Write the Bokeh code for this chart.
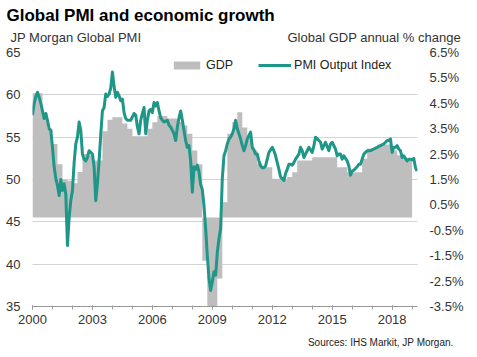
from bokeh.plotting import figure
from bokeh.models import (Range1d, LinearAxis, FixedTicker, PrintfTickFormatter,
                          Label, Legend, LegendItem)
from bokeh.embed import file_html
from bokeh.resources import INLINE

FONT = "Liberation Sans"

# JP Morgan Global PMI output index, monthly from Jan 2000
pmi_values = [
    57.6, 59.0, 59.8, 60.3, 59.7, 59.0, 58.1, 57.2, 57.8, 57.0, 56.0, 55.8,  # 2000
    53.8, 51.5, 50.1, 49.3, 48.1, 50.0, 48.7, 49.5, 48.3, 42.2, 45.5, 47.5,  # 2001
    48.7, 52.0, 54.2, 55.0, 56.8, 55.8, 53.0, 52.4, 52.2, 52.6, 53.4, 53.2,  # 2002
    53.0, 51.5, 47.5, 49.5, 52.2, 55.3, 58.1, 58.5, 60.1, 59.8, 60.1, 60.8,  # 2003
    62.7, 61.0, 59.7, 60.3, 59.9, 59.3, 59.5, 57.9, 57.2, 57.0, 57.0, 57.0,  # 2004
    57.4, 57.8, 57.6, 56.2, 55.4, 57.0, 57.8, 58.5, 55.4, 57.0, 58.1, 58.3,  # 2005
    57.9, 59.1, 58.7, 59.1, 58.1, 57.3, 57.0, 56.8, 56.9, 57.0, 56.4, 56.2,  # 2006
    55.8, 55.4, 54.6, 56.2, 57.3, 58.1, 57.0, 55.8, 54.6, 53.8, 54.0, 52.2,  # 2007
    48.5, 51.5, 51.2, 51.7, 50.9, 49.4, 48.8, 46.9, 44.2, 41.0, 38.3, 36.9,  # 2008
    37.9, 39.1, 38.7, 41.4, 43.0, 44.2, 50.1, 52.8, 53.4, 54.2, 54.8, 55.0,  # 2009
    55.4, 56.0, 57.0, 56.0, 55.4, 54.8, 54.0, 53.4, 54.0, 54.8, 55.2, 55.6,  # 2010
    53.8, 53.5, 53.0, 53.0, 52.2, 51.6, 51.4, 51.4, 51.6, 52.4, 53.2, 53.5,  # 2011
    53.8, 53.4, 52.8, 52.0, 51.2, 50.3, 50.1, 49.9, 50.7, 51.2, 51.8, 51.8,  # 2012
    51.7, 52.0, 52.4, 52.7, 53.0, 53.8, 53.4, 52.6, 53.0, 53.4, 53.8, 53.5,  # 2013
    53.2, 54.0, 55.0, 54.8, 54.6, 54.4, 53.6, 54.0, 54.4, 53.9, 53.4, 54.2,  # 2014
    54.4, 54.0, 53.6, 52.8, 53.0, 53.0, 52.4, 52.8, 52.5, 52.2, 51.6, 50.5,  # 2015
    51.0, 51.1, 51.3, 51.5, 51.8, 51.8, 52.4, 53.0, 53.2, 53.4, 53.4, 53.4,  # 2016
    53.5, 53.6, 53.7, 53.8, 53.9, 54.0, 54.1, 54.2, 54.4, 54.6, 54.6, 54.8,  # 2017
    53.2, 53.8, 53.8, 54.0, 53.6, 53.4, 52.6, 52.8, 52.5, 52.2, 52.4, 52.4,  # 2018
    52.3, 52.5, 51.4, 51.0,                                                  # 2019
]

# Global GDP annual % change, quarterly from 2000 Q1
gdp_values = [
    4.9, 4.9, 4.1, 3.5,      # 2000
    2.9, 2.1, 1.5, 1.45,     # 2001
    1.35, 1.8, 2.5, 2.45,    # 2002
    2.25, 2.25, 3.4, 3.85,   # 2003
    3.95, 3.95, 3.7, 3.5,    # 2004
    3.2, 3.2, 3.2, 3.5,      # 2005
    3.75, 4.0, 4.0, 3.9,     # 2006
    3.9, 3.76, 3.63, 3.3,    # 2007
    2.64, 2.1, -1.7, -4.2,   # 2008
    -4.0, -2.4, 0.6, 3.3,    # 2009
    3.76, 4.15, 3.55, 3.23,  # 2010
    2.64, 2.13, 1.98, 1.98,  # 2011
    1.53, 1.53, 1.5, 1.6,    # 2012
    1.79, 2.25, 2.25, 2.25,  # 2013
    2.38, 2.38, 2.38, 2.38,  # 2014
    2.38, 1.98, 1.98, 1.79,  # 2015
    1.79, 1.79, 2.32, 2.72,  # 2016
    2.72, 2.88, 2.88, 2.88,  # 2017
    2.64, 2.45, 2.35, 2.25,  # 2018
]

left_ticks = [35, 40, 45, 50, 55, 60, 65]
right_ticks = [-3.5, -2.5, -1.5, -0.5, 0.5, 1.5, 2.5, 3.5, 4.5, 5.5, 6.5]
year_ticks = [2000, 2003, 2006, 2009, 2012, 2015, 2018]
year_minor = list(range(2000, 2020))

pmi_dates = [2000 + i / 12 for i in range(len(pmi_values))]
gdp_dates = [2000 + i / 4 for i in range(len(gdp_values))]
gdp_x = gdp_dates + [gdp_dates[-1] + 0.25]
gdp_y = gdp_values + [gdp_values[-1]]

GREY = "#bebebe"
TEAL = "#1e9688"
TXT = "#333333"

p = figure(width=477, height=357, output_backend="svg", toolbar_location=None,
           title=None, x_range=Range1d(2000, 2019.27), y_range=Range1d(35, 65),
           min_border_left=32, min_border_right=60, min_border_top=52,
           min_border_bottom=51)
p.extra_y_ranges = {"gdp": Range1d(-3.5, 6.5)}
p.outline_line_color = None
p.background_fill_color = "white"
p.border_fill_color = "white"

area = p.varea_step(x=gdp_x, y1=[0] * len(gdp_x), y2=gdp_y, step_mode="after",
                    fill_color=GREY, y_range_name="gdp")
line = p.line(pmi_dates, pmi_values, line_color=TEAL, line_width=3, line_join="round")

# axes
p.yaxis.ticker = FixedTicker(ticks=left_ticks)
p.yaxis.axis_line_color = None
p.yaxis.major_tick_line_color = None
p.yaxis.minor_tick_line_color = None
p.yaxis.major_tick_out = 0
p.yaxis.major_tick_in = 0
p.yaxis.major_label_standoff = 12
p.yaxis.major_label_text_font = FONT
p.yaxis.major_label_text_font_size = "13px"
p.yaxis.major_label_text_color = TXT

ax_r = LinearAxis(y_range_name="gdp", ticker=FixedTicker(ticks=right_ticks),
                  formatter=PrintfTickFormatter(format="%.1f%%"))
ax_r.axis_line_color = None
ax_r.major_tick_line_color = None
ax_r.minor_tick_line_color = None
ax_r.major_tick_out = 0
ax_r.major_tick_in = 0
ax_r.major_label_standoff = 12
ax_r.major_label_text_font = FONT
ax_r.major_label_text_font_size = "13px"
ax_r.major_label_text_color = TXT
p.add_layout(ax_r, "right")

p.xaxis.ticker = FixedTicker(ticks=year_ticks, minor_ticks=year_minor)
p.xaxis.formatter = PrintfTickFormatter(format="%d")
p.xaxis.axis_line_color = "#9a9a9a"
p.xaxis.major_tick_line_color = "#9a9a9a"
p.xaxis.minor_tick_line_color = "#9a9a9a"
p.xaxis.major_tick_out = 3
p.xaxis.major_tick_in = 1
p.xaxis.minor_tick_out = 3
p.xaxis.minor_tick_in = 1
p.xaxis.major_label_standoff = 5
p.xaxis.major_label_text_font = FONT
p.xaxis.major_label_text_font_size = "13px"
p.xaxis.major_label_text_color = TXT

p.xgrid.grid_line_color = None
p.ygrid.ticker = FixedTicker(ticks=left_ticks)
p.ygrid.grid_line_color = "#a8a8a8"
p.ygrid.grid_line_dash = "1 1"
p.ygrid.grid_line_width = 1

legend = Legend(items=[LegendItem(label="GDP", renderers=[area]),
                       LegendItem(label="PMI Output Index", renderers=[line])],
                orientation="horizontal", location=(138, 234),
                glyph_width=33, glyph_height=10, label_standoff=3, spacing=25,
                padding=0, margin=0, border_line_color=None,
                background_fill_alpha=0, label_text_font=FONT,
                label_text_font_size="12.5px", label_text_color="#222222",
                label_height=14)
p.add_layout(legend)

def lab(x, y, text, size, place, align="left", bold=False, baseline="alphabetic",
        color=TXT):
    p.add_layout(Label(x=x, y=y, x_units="screen", y_units="screen", text=text,
                       text_font=FONT, text_font_size=size, text_align=align,
                       text_baseline=baseline, text_color=color,
                       text_font_style="bold" if bold else "normal"), place)

# side-panel texts (stacked outward from the frame)
lab(-22, 15, "JP Morgan Global  PMI", "13px", "above")
lab(432, 0, "Global  GDP annual % change", "13px", "above", align="right")
lab(-26, 7.5, "Global PMI and economic growth", "17px", "above", bold=True,
    color="black")
lab(421, -5, "Sources: IHS Markit, JP Morgan.", "10px", "below", align="right",
    baseline="middle", color="#222222")

open("out.html", "w").write(file_html(p, INLINE))
